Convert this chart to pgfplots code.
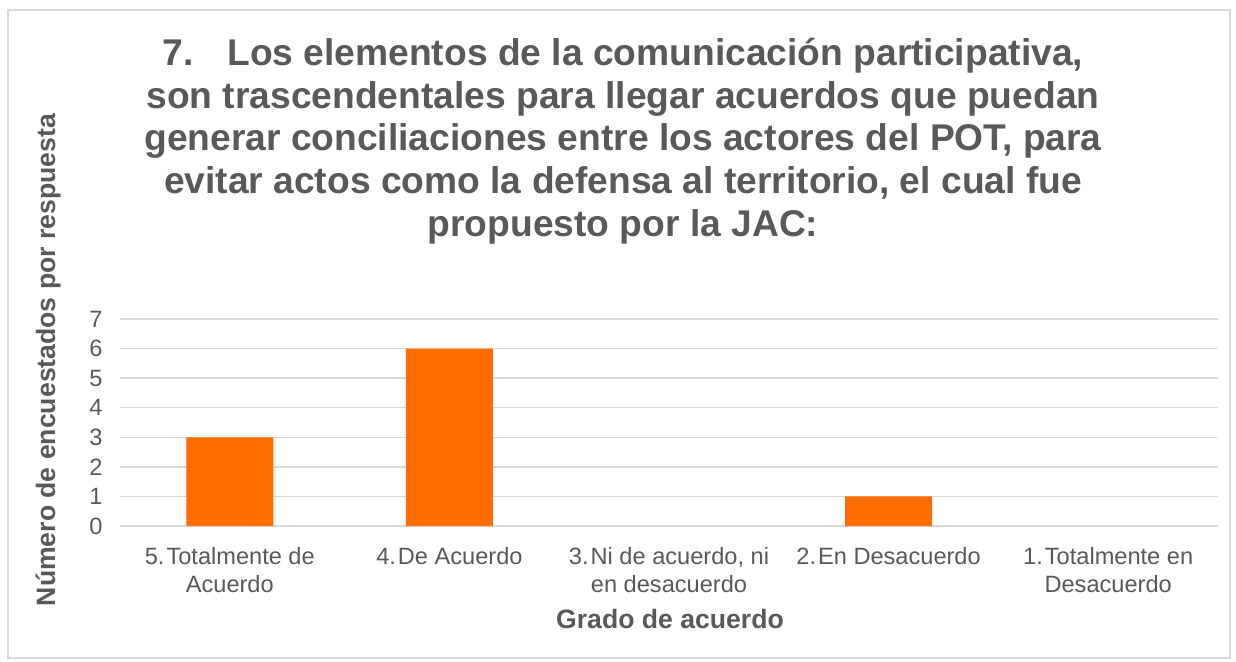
\documentclass[border=0pt]{standalone}
\usepackage{fontspec}
\setmainfont{Liberation Sans}
\usepackage{pgfplots}
\pgfplotsset{compat=1.18}
\definecolor{txt}{HTML}{595959}
\definecolor{barc}{HTML}{FF6D00}
\definecolor{gridc}{HTML}{D9D9D9}
\begin{document}
\begin{tikzpicture}
\path[use as bounding box] (0,0) rectangle (618pt,-330.5pt);
\draw[gridc, line width=0.75pt] (4pt,-5pt) rectangle (615pt,-329pt);
\begin{axis}[
  at={(60pt,-263pt)}, anchor=south west,
  scale only axis, width=549pt, height=103.5pt,
  xmin=-0.5, xmax=4.5, ymin=0, ymax=7,
  ytick={0,1,...,7},
  xtick={0,1,2,3,4},
  xticklabels={{5.\kern1ptTotalmente de\\Acuerdo},{4.\kern1ptDe Acuerdo},{3.\kern1ptNi de acuerdo, ni\\en desacuerdo},{2.\kern1ptEn Desacuerdo},{1.\kern1ptTotalmente en\\Desacuerdo}},
  axis line style={draw=none},
  major tick length=0pt,
  xmajorgrids=false, ymajorgrids=true, major grid style={color=gridc, line width=0.75pt},
  /pgf/number format/assume math mode=true,
  ticklabel style={text=txt, font=\fontsize{11.8}{14}\selectfont},
  xticklabel style={align=center, inner sep=0pt, yshift=-10.5pt},
  yticklabel style={inner sep=0pt, xshift=-8.5pt},
  clip=false,
]
\addplot[ybar, bar width=43.5pt, fill=barc, draw=none, unbounded coords=discard, y filter/.expression={y==0 ? nan : y}] coordinates {(0,3) (1,6) (2,0) (3,1) (4,0)};
\end{axis}
\begin{scope}[every node/.style={text=txt, font=\fontsize{18.6}{21.4}\selectfont\bfseries, inner sep=0pt, anchor=base}]
\node at (311.5pt,-32.5pt) {7.\hspace{0.9em}Los elementos de la comunicación participativa,};
\node at (311.5pt,-54pt) {son trascendentales para llegar acuerdos que puedan};
\node at (311.5pt,-75.25pt) {generar conciliaciones entre los actores del POT, para};
\node at (311.5pt,-96.6pt) {evitar actos como la defensa al territorio, el cual fue};
\node at (311.5pt,-118pt) {propuesto por la JAC:};
\end{scope}
\node[text=txt, font=\fontsize{13.3}{15}\selectfont\bfseries, inner sep=0pt, anchor=base] at (335pt,-314pt) {Grado de acuerdo};
\node[text=txt, font=\fontsize{13.3}{15}\selectfont\bfseries, inner sep=0pt, anchor=base, rotate=90] at (27.5pt,-180pt) {Número de encuestados por respuesta};
\end{tikzpicture}
\end{document}
